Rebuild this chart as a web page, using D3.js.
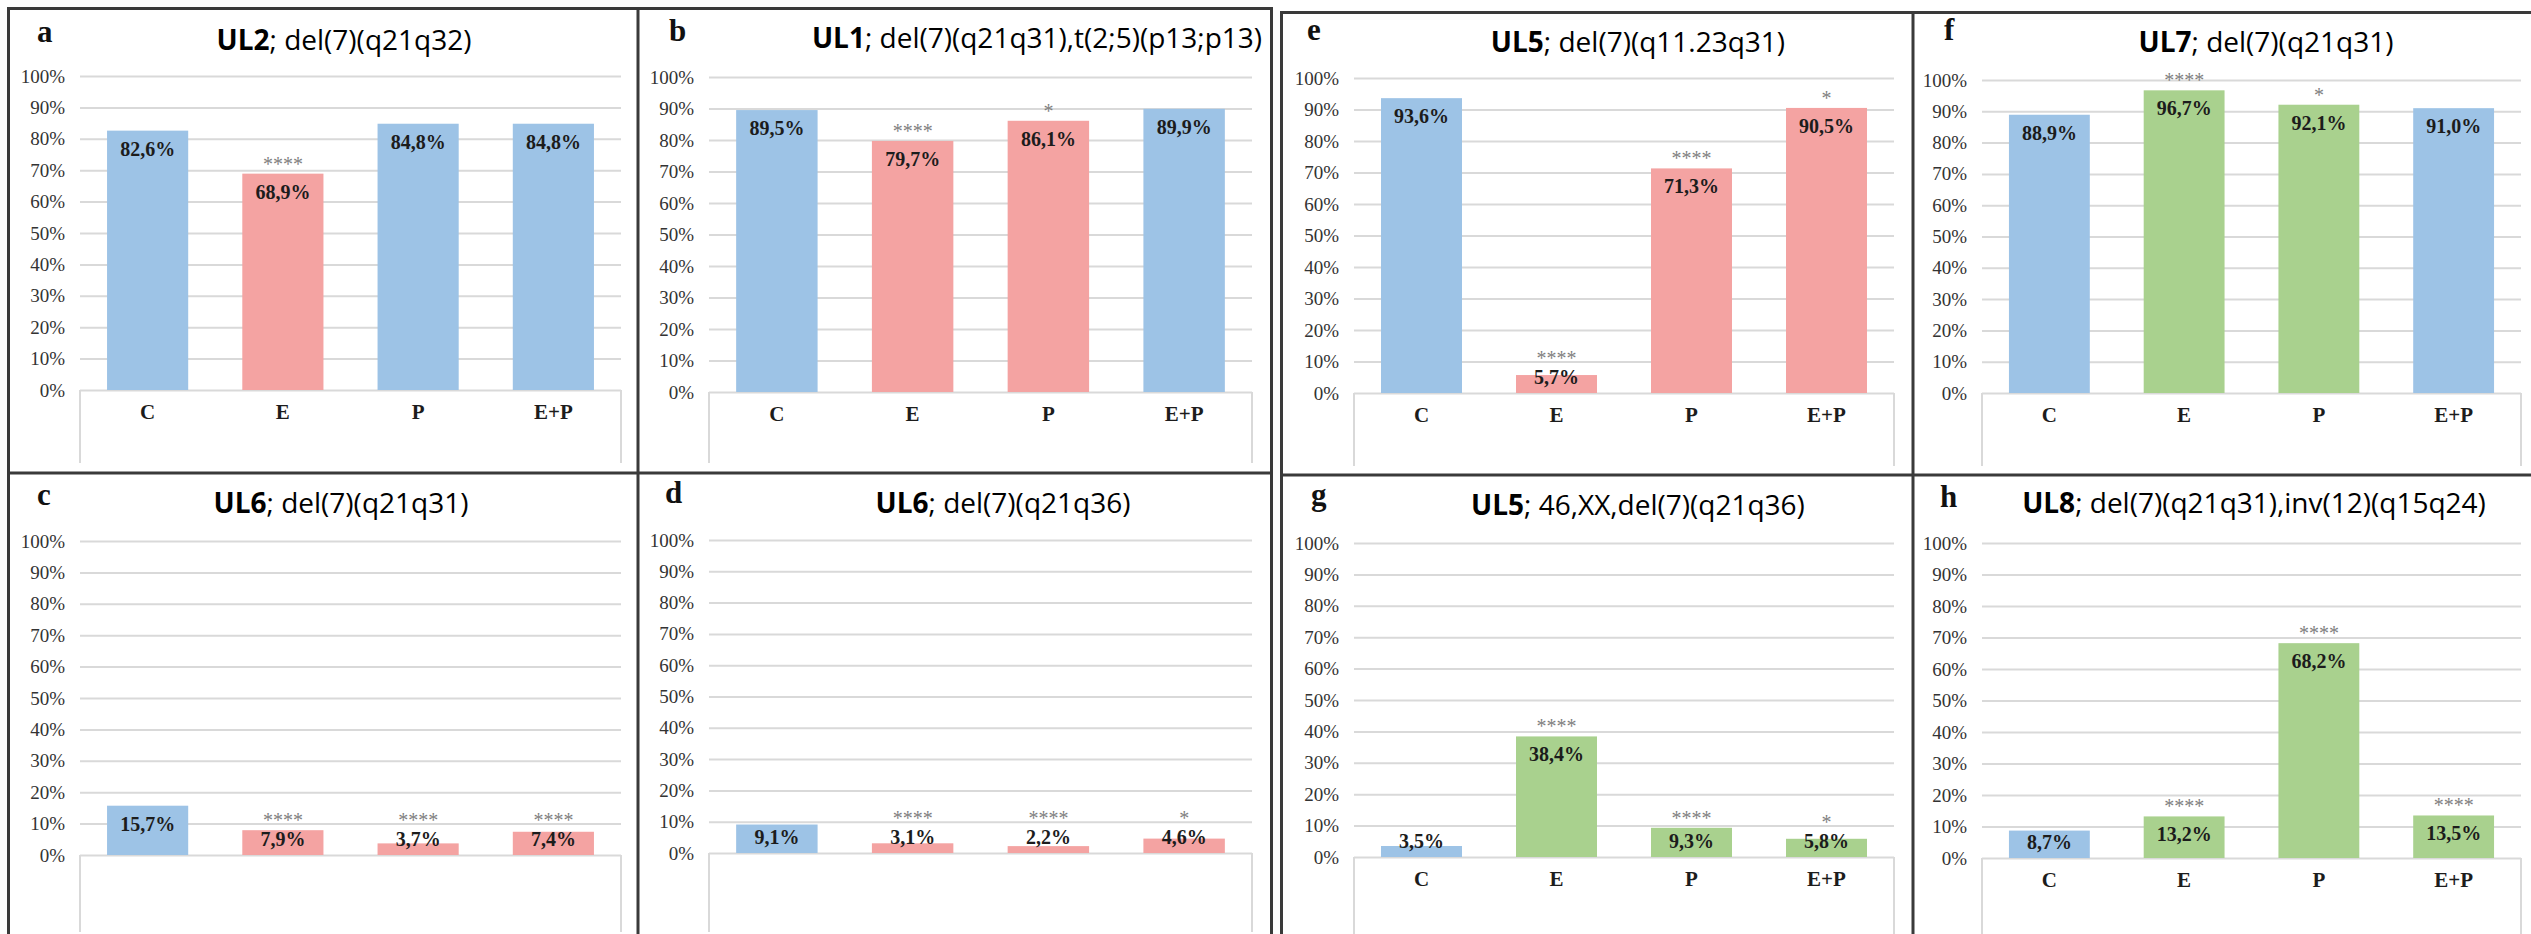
<!DOCTYPE html>
<html>
<head>
<meta charset="utf-8">
<script src="https://cdn.jsdelivr.net/npm/d3@7"></script>
<style>
  html, body { margin: 0; padding: 0; background: #ffffff; }
  svg { display: block; }
</style>
</head>
<body>
<svg id="fig" width="2531" height="934"></svg>
<script>
// Categories shared by every panel
const categories = ["C", "E", "P", "E+P"];
const yTicks = [0, 10, 20, 30, 40, 50, 60, 70, 80, 90, 100];

// Panel letters, cell lines and karyotypes
const panelLetters = ["a", "b", "c", "d", "e", "f", "g", "h"];
const cellLines = ["UL2", "UL1", "UL6", "UL6", "UL5", "UL7", "UL5", "UL8"];
const karyotypes = [
  "; del(7)(q21q32)",
  "; del(7)(q21q31),t(2;5)(p13;p13)",
  "; del(7)(q21q31)",
  "; del(7)(q21q36)",
  "; del(7)(q11.23q31)",
  "; del(7)(q21q31)",
  "; 46,XX,del(7)(q21q36)",
  "; del(7)(q21q31),inv(12)(q15q24)"
];

// Percentages per panel (C, E, P, E+P)
const valuesA = [82.6, 68.9, 84.8, 84.8];
const valuesB = [89.5, 79.7, 86.1, 89.9];
const valuesC = [15.7, 7.9, 3.7, 7.4];
const valuesD = [9.1, 3.1, 2.2, 4.6];
const valuesE = [93.6, 5.7, 71.3, 90.5];
const valuesF = [88.9, 96.7, 92.1, 91.0];
const valuesG = [3.5, 38.4, 9.3, 5.8];
const valuesH = [8.7, 13.2, 68.2, 13.5];

// Direction of change versus control: ctrl / down / up
const effectA = ["ctrl", "down", "ctrl", "ctrl"];
const effectB = ["ctrl", "down", "down", "ctrl"];
const effectC = ["ctrl", "down", "down", "down"];
const effectD = ["ctrl", "down", "down", "down"];
const effectE = ["ctrl", "down", "down", "down"];
const effectF = ["ctrl", "up", "up", "ctrl"];
const effectG = ["ctrl", "up", "up", "up"];
const effectH = ["ctrl", "up", "up", "up"];

// Significance marks
const starsA = ["", "****", "", ""];
const starsB = ["", "****", "*", ""];
const starsC = ["", "****", "****", "****"];
const starsD = ["", "****", "****", "*"];
const starsE = ["", "****", "****", "*"];
const starsF = ["", "****", "*", ""];
const starsG = ["", "****", "****", "*"];
const starsH = ["", "****", "****", "****"];

const allValues = [valuesA, valuesB, valuesC, valuesD, valuesE, valuesF, valuesG, valuesH];
const allEffects = [effectA, effectB, effectC, effectD, effectE, effectF, effectG, effectH];
const allStars = [starsA, starsB, starsC, starsD, starsE, starsF, starsG, starsH];
const showCategoryLabels = [true, true, false, false, true, true, true, true];

// Page layout of each panel (plot area, box bottom, letter and title anchors)
const layout = [
  { x0: 80,   x1: 621,  yTop: 76,  yZero: 390, boxBottom: 463, lx: 37,   ly: 42,  tx: 344,  ty: 50 },
  { x0: 709,  x1: 1252, yTop: 77,  yZero: 392, boxBottom: 463, lx: 669,  ly: 41,  tx: 1037, ty: 48 },
  { x0: 80,   x1: 621,  yTop: 541, yZero: 855, boxBottom: 932, lx: 37,   ly: 505, tx: 341,  ty: 513 },
  { x0: 709,  x1: 1252, yTop: 540, yZero: 853, boxBottom: 932, lx: 665,  ly: 503, tx: 1003, ty: 513 },
  { x0: 1354, x1: 1894, yTop: 78,  yZero: 393, boxBottom: 466, lx: 1307, ly: 40,  tx: 1638, ty: 52 },
  { x0: 1982, x1: 2521, yTop: 80,  yZero: 393, boxBottom: 466, lx: 1944, ly: 40,  tx: 2266, ty: 52 },
  { x0: 1354, x1: 1894, yTop: 543, yZero: 857, boxBottom: 934, lx: 1311, ly: 505, tx: 1638, ty: 515 },
  { x0: 1982, x1: 2521, yTop: 543, yZero: 858, boxBottom: 934, lx: 1940, ly: 507, tx: 2254, ty: 513 }
];

const fillFor = { ctrl: "#9dc3e6", down: "#f4a3a2", up: "#a9d18e" };
const serif = "'Liberation Serif', 'Times New Roman', serif";
const sans = "'Open Sans', 'Noto Sans', sans-serif";

const locale = d3.formatLocale({ decimal: ",", thousands: ".", grouping: [3], currency: ["", "%"] });
const fmtValue = v => locale.format(".1f")(v) + "%";

const svg = d3.select("#fig");
svg.append("rect").attr("width", 2531).attr("height", 934).attr("fill", "#ffffff");

// Framing of the two figure blocks
const frame = svg.append("g").attr("fill", "none").attr("stroke", "#3a3a3a").attr("stroke-width", 3);
frame.append("rect").attr("x", 8.5).attr("y", 8.5).attr("width", 1263).attr("height", 960);
frame.append("line").attr("x1", 638).attr("x2", 638).attr("y1", 8).attr("y2", 934);
frame.append("line").attr("x1", 8).attr("x2", 1272).attr("y1", 473).attr("y2", 473);
frame.append("rect").attr("x", 1281.5).attr("y", 12.5).attr("width", 1300).attr("height", 960);
frame.append("line").attr("x1", 1913).attr("x2", 1913).attr("y1", 12).attr("y2", 934);
frame.append("line").attr("x1", 1281).attr("x2", 2531).attr("y1", 475).attr("y2", 475);

layout.forEach((L, i) => {
  const values = allValues[i];
  const effects = allEffects[i];
  const stars = allStars[i];
  const data = categories.map((c, k) => ({ cat: c, v: values[k], eff: effects[k], star: stars[k] }));

  const x = d3.scaleBand().domain(categories).range([L.x0, L.x1]).paddingInner(0.4).paddingOuter(0.2);
  const y = d3.scaleLinear().domain([0, 100]).range([L.yZero, L.yTop]);

  const g = svg.append("g");

  // Gridlines and percentage ticks
  const axis = d3.axisLeft(y)
    .tickValues(yTicks)
    .tickSize(-(L.x1 - L.x0))
    .tickPadding(15)
    .tickFormat(d => d + "%");
  const ax = g.append("g").attr("transform", `translate(${L.x0},0)`).call(axis);
  ax.select(".domain").remove();
  ax.selectAll(".tick line").attr("stroke", "#d9d9d9").attr("stroke-width", 2);
  ax.selectAll(".tick text")
    .attr("fill", "#333333")
    .style("font-family", serif)
    .style("font-size", "19px");

  // Box below the zero line holding the category labels
  g.append("path")
    .attr("d", `M${L.x0},${L.yZero}V${L.boxBottom}M${L.x1},${L.yZero}V${L.boxBottom}`)
    .attr("stroke", "#d9d9d9").attr("stroke-width", 2).attr("fill", "none");

  // Bars
  g.selectAll("rect.bar").data(data).join("rect")
    .attr("class", "bar")
    .attr("x", d => x(d.cat))
    .attr("width", x.bandwidth())
    .attr("y", d => y(d.v))
    .attr("height", d => y(0) - y(d.v))
    .attr("fill", d => fillFor[d.eff]);

  // Value labels inside the bar top (kept above the baseline for short bars)
  const labelBase = d => Math.min(y(d.v) + 25, y(0) - 9);
  g.selectAll("text.val").data(data).join("text")
    .attr("class", "val")
    .attr("x", d => x(d.cat) + x.bandwidth() / 2)
    .attr("y", labelBase)
    .attr("text-anchor", "middle")
    .attr("fill", "#1c1c1c")
    .style("font-family", serif)
    .style("font-weight", "bold")
    .style("font-size", "20px")
    .text(d => fmtValue(d.v));

  // Significance asterisks, set just above the bar or its label
  g.selectAll("text.star").data(data.filter(d => d.star)).join("text")
    .attr("class", "star")
    .attr("x", d => x(d.cat) + x.bandwidth() / 2)
    .attr("y", d => Math.min(y(d.v), labelBase(d) - 16) - 3)
    .attr("text-anchor", "middle")
    .attr("fill", "#7f7f7f")
    .style("font-family", serif)
    .style("font-size", "20px")
    .text(d => d.star);

  // Category labels
  if (showCategoryLabels[i]) {
    g.selectAll("text.cat").data(categories).join("text")
      .attr("class", "cat")
      .attr("x", d => x(d) + x.bandwidth() / 2)
      .attr("y", y(0) + 29)
      .attr("text-anchor", "middle")
      .attr("fill", "#1c1c1c")
      .style("font-family", serif)
      .style("font-weight", "bold")
      .style("font-size", "21px")
      .text(d => d);
  }

  // Panel letter
  g.append("text")
    .attr("x", L.lx).attr("y", L.ly)
    .attr("fill", "#111111")
    .style("font-family", serif)
    .style("font-weight", "bold")
    .style("font-size", "31px")
    .text(panelLetters[i]);

  // Title: cell line in bold, karyotype in regular weight
  const t = g.append("text")
    .attr("x", L.tx).attr("y", L.ty)
    .attr("text-anchor", "middle")
    .attr("fill", "#000000")
    .style("font-family", sans)
    .style("font-size", "28px");
  t.append("tspan").style("font-weight", "bold").text(cellLines[i]);
  t.append("tspan").text(karyotypes[i]);
});
</script>
</body>
</html>
